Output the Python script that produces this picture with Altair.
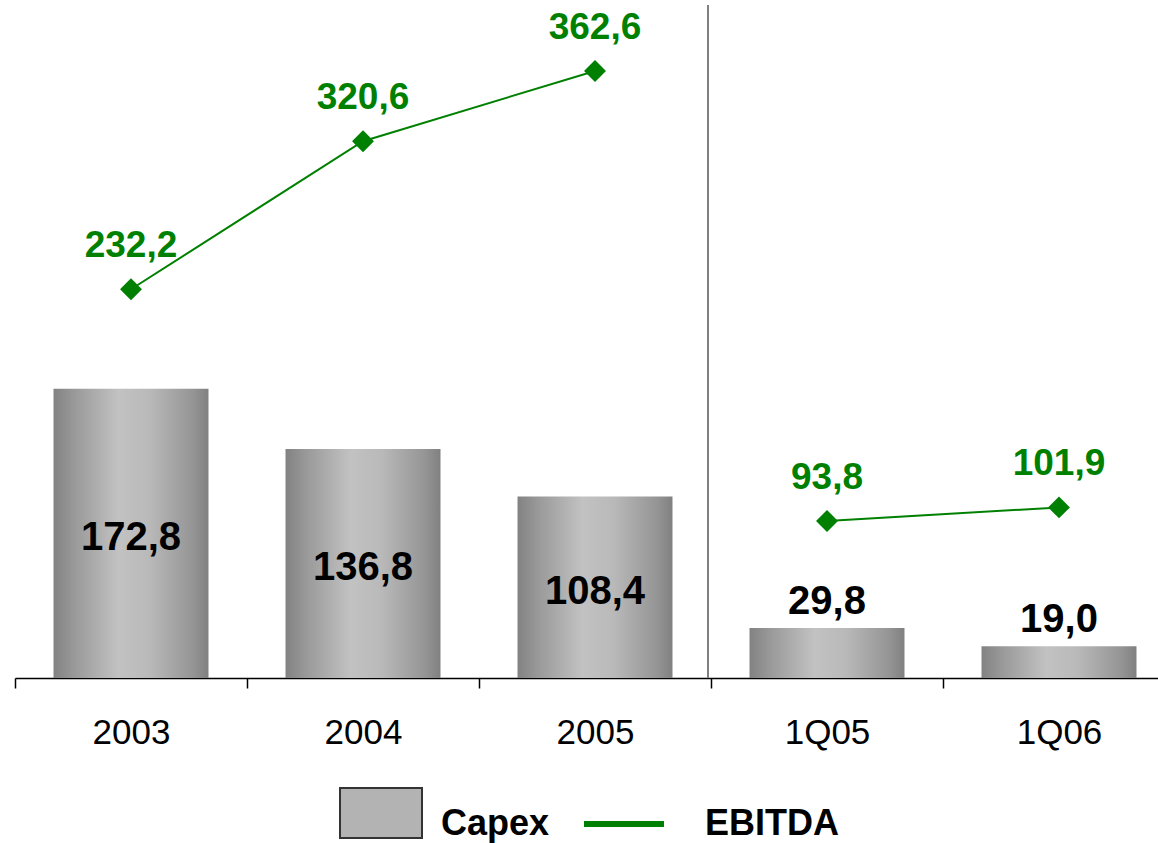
import altair as alt
import pandas as pd

# Capex vs EBITDA, annual figures and first quarters
categories = ["2003", "2004", "2005", "1Q05", "1Q06"]
capex = [172.8, 136.8, 108.4, 29.8, 19.0]
ebitda = [232.2, 320.6, 362.6, 93.8, 101.9]
period = ["annual", "annual", "annual", "quarter", "quarter"]

df = pd.DataFrame({"cat": categories, "capex": capex, "ebitda": ebitda, "period": period})

GREEN = "#008000"
FONT = "Liberation Sans"
# wide box key, sitting slightly above the label's middle
RECT = "M-1,-0.88H1V0.34H-1Z"

bar_gradient = alt.Gradient(
    gradient="linear",
    x1=0, x2=1, y1=0, y2=0,
    stops=[
        alt.GradientStop(offset=0.0, color="#828282"),
        alt.GradientStop(offset=0.12, color="#979797"),
        alt.GradientStop(offset=0.42, color="#c2c2c2"),
        alt.GradientStop(offset=0.62, color="#b9b9b9"),
        alt.GradientStop(offset=0.9, color="#959595"),
        alt.GradientStop(offset=1.0, color="#808080"),
    ],
)

x_enc = alt.X(
    "cat:N",
    sort=categories,
    title=None,
    scale=alt.Scale(range=[0, 1160], paddingInner=0, paddingOuter=0),
    axis=alt.Axis(
        labelAngle=0,
        labelFont=FONT,
        labelFontSize=35,
        labelColor="black",
        labelPadding=27,
        domainColor="black",
        domainWidth=1.5,
        tickColor="black",
        tickWidth=1.5,
        tickSize=10,
        tickBand="extent",
        grid=False,
    ),
)
y_scale = alt.Scale(domain=[0, 402], nice=False, zero=True)

base = alt.Chart(df).transform_calculate(
    capex_label="replace(format(datum.capex, '.1f'), '.', ',')",
    ebitda_label="replace(format(datum.ebitda, '.1f'), '.', ',')",
    capex_mid="datum.capex / 2",
)

bars = base.mark_bar(fill=bar_gradient, width=alt.RelativeBandSize(0.668)).encode(
    x=x_enc,
    y=alt.Y("capex:Q", scale=y_scale, axis=None),
)

# labels inside the tall bars
inner_labels = base.transform_filter("datum.capex >= 60").mark_text(
    font=FONT, fontSize=40, fontWeight="bold", color="black", baseline="alphabetic", dy=17
).encode(x=x_enc, y=alt.Y("capex_mid:Q", scale=y_scale), text="capex_label:N")

# labels above the short bars
top_labels = base.transform_filter("datum.capex < 60").mark_text(
    font=FONT, fontSize=40, fontWeight="bold", color="black", baseline="alphabetic", dy=-14
).encode(x=x_enc, y=alt.Y("capex:Q", scale=y_scale), text="capex_label:N")

line = base.mark_line(strokeWidth=2).encode(
    x=x_enc,
    y=alt.Y("ebitda:Q", scale=y_scale),
    detail="period:N",
    stroke=alt.Stroke(
        "series:N",
        scale=alt.Scale(domain=["EBITDA"], range=[GREEN]),
        legend=alt.Legend(
            title=None,
            orient="none",
            legendX=566,
            legendY=776,
            symbolType="stroke",
            symbolSize=6400,
            symbolStrokeWidth=6,
            labelOffset=38,
        ),
    ),
).transform_calculate(series="'EBITDA'")

points = base.mark_point(shape="diamond", filled=True, size=480, color=GREEN, opacity=1).encode(
    x=x_enc, y=alt.Y("ebitda:Q", scale=y_scale)
)

ebitda_labels = base.mark_text(
    font=FONT, fontSize=37, fontWeight="bold", color=GREEN, baseline="alphabetic", dy=-32
).encode(x=x_enc, y=alt.Y("ebitda:Q", scale=y_scale), text="ebitda_label:N")

# legend entry for the bars (no marks drawn by this layer)
capex_key = base.transform_calculate(series="'Capex'").transform_filter("false").mark_point(
    shape=RECT, filled=True, stroke="#333333", strokeWidth=2, size=6724, opacity=1
).encode(
    x=x_enc,
    y=alt.Y("capex:Q", scale=y_scale),
    fill=alt.Fill(
        "series:N",
        scale=alt.Scale(domain=["Capex"], range=["#b3b3b3"]),
        legend=alt.Legend(
            title=None,
            orient="none",
            legendX=324,
            legendY=777,
            symbolType=RECT,
            symbolSize=6724,
            symbolStrokeColor="#333333",
            symbolStrokeWidth=2,
            labelOffset=18,
        ),
    ),
)

# divider between annual and quarterly figures
divider = alt.Chart(df).mark_rule(color="#808080", strokeWidth=2).encode(
    x=alt.value(693), y=alt.value(0), y2=alt.value(673)
)

chart = alt.layer(
    bars, divider, inner_labels, top_labels, line, points, ebitda_labels, capex_key
).resolve_scale(fill="independent", stroke="independent").properties(
    width=1143,
    height=673,
    autosize="none",
    padding={"left": 15, "top": 5, "right": 0, "bottom": 165},
    background="white",
).configure_view(stroke=None).configure_legend(
    labelFont=FONT,
    labelFontSize=36,
    labelFontWeight="bold",
    labelColor="black",
    labelLimit=400,
)

chart.save("out.html", embed_options={"renderer": "svg", "actions": False})
